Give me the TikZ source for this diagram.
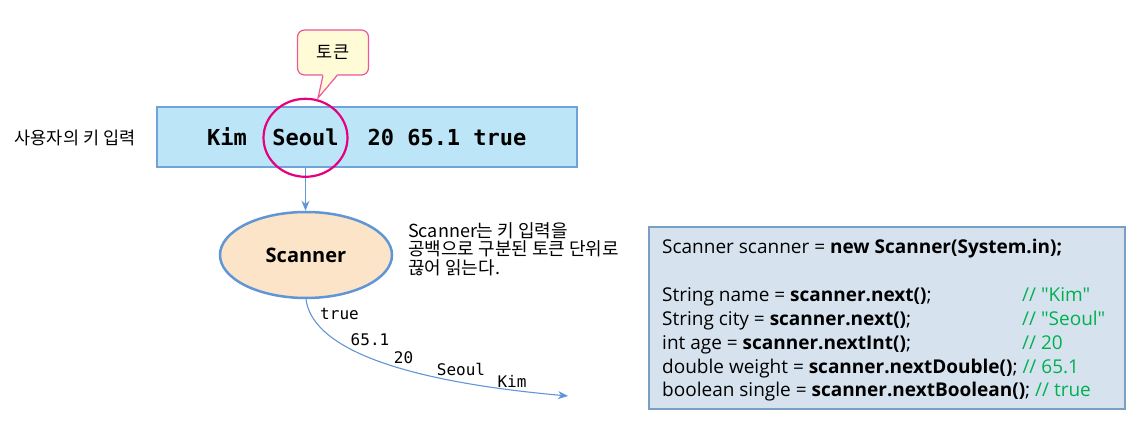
\documentclass[tikz,border=0pt]{standalone}
\usepackage{fontspec}
\setmainfont{Open Sans}[Ligatures=TeXOff]
\setmonofont{DejaVu Sans Mono}
\newfontfamily\krfont{Noto Sans CJK KR}
\usetikzlibrary{positioning,calc,arrows.meta,shapes.geometric}

\definecolor{inputfill}{RGB}{189,229,248}
\definecolor{inputedge}{RGB}{111,163,218}
\definecolor{ringpink}{RGB}{228,0,127}
\definecolor{calloutfill}{RGB}{255,251,214}
\definecolor{calloutedge}{RGB}{236,86,158}
\definecolor{flowblue}{RGB}{96,150,214}
\definecolor{scanfill}{RGB}{252,228,200}
\definecolor{codefill}{RGB}{214,227,239}
\definecolor{codeedge}{RGB}{122,158,198}
\definecolor{cmtgreen}{RGB}{0,176,80}

\tikzset{
  inbox/.style={draw=inputedge,fill=inputfill,line width=1.5pt,minimum width=420,minimum height=60,inner sep=0pt},
  tokentext/.style={font=\ttfamily\bfseries\fontsize{22}{26}\selectfont,inner sep=0pt,anchor=base},
  flowtext/.style={font=\ttfamily\fontsize{16}{19}\selectfont,inner sep=0pt},
  callbox/.style={draw=calloutedge,fill=calloutfill,line width=1.2pt,rounded corners=7pt,minimum width=71,minimum height=45,font=\krfont\fontsize{17.5}{20}\selectfont},
  scanbox/.style={ellipse,draw=flowblue,fill=scanfill,line width=2.5pt,minimum width=172,minimum height=86,font=\bfseries\fontsize{20}{24}\selectfont},
  flow/.style={draw=flowblue,line width=1.4pt,-{Stealth[length=10pt,width=8pt]}},
  codebox/.style={draw=codeedge,fill=codefill,line width=1.5pt,minimum width=476,minimum height=182,inner sep=0pt},
  codeline/.style={font=\fontsize{19}{23}\selectfont,inner sep=0pt,anchor=base west},
  comment/.style={codeline,text=cmtgreen}
}

\begin{document}
\begin{tikzpicture}[x=1pt,y=1pt,yscale=-1]
    \useasboundingbox (0,0) rectangle (1137,427);

    % Text Node
    \node [font=\krfont\fontsize{17.5}{20}\selectfont] (userlabel) at (75,138) {사용자의 키 입력};

    %Shape: Rectangle [user input]
    \node [inbox] (input) at (367,137) {};
    % Text Node
    \node [tokentext] (kim) at (227,146) {Kim};
    \node [tokentext] (seoul) at (305.5,146) {Seoul};
    \node [tokentext] (rest) at (447,146) {20 65.1 true};

    %Shape: Ellipse [scanner]
    \node [scanbox] (scanner) at (306,255) {Scanner};

    %Straight Lines [input to scanner]
    \draw [flow] (seoul |- input.south) -- (seoul |- scanner.north);

    %Shape: Circle [token ring]
    \draw [ringpink,line width=2.2pt] (seoul.center) ellipse (42 and 39);

    %Shape: Callout
    \node [callbox] (tok) at (333,52.5) {토큰};
    \coordinate (tip) at (318,98);
    \fill [calloutfill] ($(tok.south)+(-10,-1.5)$) -- (tip) -- ($(tok.south)+(4,-1.5)$) -- cycle;
    \draw [calloutedge,line width=1.2pt] ($(tok.south)+(-10,0)$) -- (tip) -- ($(tok.south)+(4,0)$);

    % Text Node
    \node [anchor=north west,align=left,inner sep=0pt,font=\krfont\fontsize{18}{18.7}\selectfont] (note) at (408,222) {Scanner는 키 입력을\\공백으로 구분된 토큰 단위로\\끊어 읽는다.};

    %Curve Lines [token stream]
    \coordinate (out) at (568,396);
    \draw [flow,line width=1.1pt] (scanner.south) .. controls (312,345) and (390,380) .. (out);
    % Text Node
    \node [flowtext] (ftrue) at (339.5,314) {true};
    \node [flowtext] (fweight) at (370,340) {65.1};
    \node [flowtext] (fage) at (403.5,358) {20};
    \node [flowtext] (fcity) at (461,369) {Seoul};
    \node [flowtext] (fname) at (512,381) {Kim};

    %Shape: Rectangle [code]
    \node [codebox] (code) at (887,318) {};
    % Text Node
    \node [codeline] (c1) at (662,254) {Scanner scanner = \textbf{new Scanner(System.in);}};
    \node [codeline] (c2) at (662,301.7) {String name = \textbf{scanner.next()};};
    \node [codeline] (c3) at (662,325.5) {String city = \textbf{scanner.next()};};
    \node [codeline] (c4) at (662,349.2) {int age = \textbf{scanner.nextInt()};};
    \node [codeline] (c5) at (662,373) {double weight = \textbf{scanner.nextDouble()}; \textcolor{cmtgreen}{// 65.1}};
    \node [codeline] (c6) at (662,396.7) {boolean single = \textbf{scanner.nextBoolean()}; \textcolor{cmtgreen}{// true}};
    \node [comment] (k2) at (1022,301.7) {// "Kim"};
    \node [comment] (k3) at (1022,325.5) {// "Seoul"};
    \node [comment] (k4) at (1022,349.2) {// 20};

\end{tikzpicture}
\end{document}
